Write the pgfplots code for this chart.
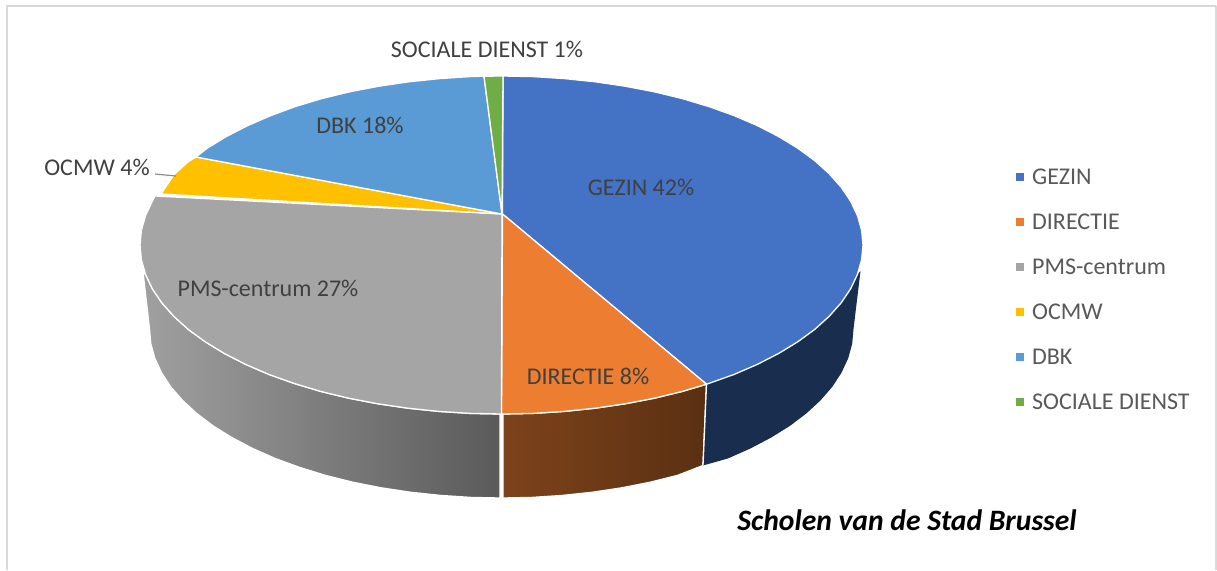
\documentclass[border=0pt]{standalone}
\usepackage{pgfplots}
\pgfplotsset{compat=1.18}
\usepackage{fontspec}
\setmainfont{Carlito}
\definecolor{cGez}{HTML}{4472C4}
\definecolor{cDir}{HTML}{ED7D31}
\definecolor{cPms}{HTML}{A5A5A5}
\definecolor{cOcm}{HTML}{FFC000}
\definecolor{cDbk}{HTML}{5B9BD5}
\definecolor{cSoc}{HTML}{70AD47}
\definecolor{txt}{HTML}{404040}
\definecolor{ltxt}{HTML}{595959}
\definecolor{frame}{HTML}{D9D9D9}
\definecolor{brL}{HTML}{7D431B}
\definecolor{brR}{HTML}{5A3012}
\definecolor{navy}{HTML}{192D4F}
\definecolor{grL}{HTML}{A0A0A0}
\definecolor{grR}{HTML}{5A5A5A}
\begin{document}
\begin{tikzpicture}
\begin{axis}[
  width=1217pt,height=570pt,scale only axis,
  xmin=0,xmax=1217,ymin=0,ymax=570,y dir=reverse,
  hide axis,clip=true,
  legend style={at={(axis cs:1016,166.5)},anchor=north west,draw=none,fill=none,
    font=\fontsize{24}{28}\selectfont\color{ltxt},row sep=24pt,
    cells={anchor=west},inner sep=0pt,/tikz/column 1/.style={column sep=6pt}},
  legend image code/.code={\fill[#1,draw=none] (0cm,-0.14cm) rectangle (0.28cm,0.14cm);},
  legend cell align=left,
  every axis plot/.append style={line join=round},
]
\addplot[forget plot,draw=none,fill=white] coordinates {(0,0)(1217,0)(1217,570)(0,570)} --cycle;
\addplot[forget plot,draw=frame,line width=2pt] coordinates {(7,570)(7,6)(1216,6)(1216,570)};
% sides
\addplot[forget plot,draw=white,line width=1.3pt,left color=grL,right color=grR]
 coordinates {(500,414)(470,413.4)(438.7,411.4)(407.9,408.2)(377.9,403.8)(348.7,398.2)(320.7,391.4)(294.1,383.4)(269.1,374.5)(245.9,364.5)(224.6,353.6)(205.4,341.9)(188.4,329.5)(173.9,316.4)(161.8,302.8)(152.3,288.7)(145.5,274.3)(143,272)
 (149.5,329)(150.8,343.7)(154.8,358.3)(161.5,372.7)(170.7,386.8)(182.5,400.4)(196.7,413.5)(213.1,425.9)(231.9,437.6)(252.6,448.5)(275.2,458.5)(299.6,467.4)(325.5,475.4)(352.7,482.2)(381.1,487.8)(410.4,492.2)(440.4,495.4)(470.8,497.4)(500,498)} --cycle;
\addplot[forget plot,draw=white,line width=1.3pt,left color=brL,right color=brR]
 coordinates {(503,414)(533,413.4)(564.3,411.4)(595.1,408.2)(625.1,403.8)(654.3,398.2)(682.3,391.4)(706.5,384.2)(703,465.5)(677.5,475.4)(650.3,482.2)(621.9,487.8)(592.6,492.2)(562.6,495.4)(532.2,497.4)(503,498)} --cycle;
\addplot[forget plot,draw=none,fill=navy]
 coordinates {(706.5,384.2)(733.9,374.5)(757.1,364.5)(778.4,353.6)(797.6,341.9)(814.6,329.5)(829.1,316.4)(841.2,302.8)(850.7,288.7)(857.5,274.3)(860.5,271)(853.5,329)(852.2,343.7)(848.2,358.3)(841.5,372.7)(832.3,386.8)(820.5,400.4)(806.3,413.5)(789.9,425.9)(771.1,437.6)(750.4,448.5)(727.8,458.5)(703,465.5)} --cycle;
\addplot[forget plot,draw=white,line width=1.3pt] coordinates {(706.5,384.2)(703,465.5)};
% top
\addplot[draw=white,line width=1.3pt,fill=cGez] coordinates {(502.5,214)(503,76)(533,76.6)(564.3,78.6)(595.1,81.8)(625.1,86.2)(654.3,91.8)(682.3,98.6)(708.9,106.6)(733.9,115.5)(757.1,125.5)(778.4,136.4)(797.6,148.1)(814.6,160.5)(829.1,173.6)(841.2,187.2)(850.7,201.3)(857.5,215.7)(861.6,230.3)(863,245)(861.6,259.7)(857.5,274.3)(850.7,288.7)(841.2,302.8)(829.1,316.4)(814.6,329.5)(797.6,341.9)(778.4,353.6)(757.1,364.5)(733.9,374.5)(708.9,383.4)(706.5,384.2)} --cycle;
\addlegendentry{GEZIN}
\addplot[draw=white,line width=1.3pt,fill=cDir] coordinates {(502.5,214)(706.5,384.2)(682.3,391.4)(654.3,398.2)(625.1,403.8)(595.1,408.2)(564.3,411.4)(533,413.4)(501.5,414)} --cycle;
\addlegendentry{DIRECTIE}
\addplot[draw=white,line width=1.3pt,fill=cPms] coordinates {(502,214)(501.5,414)(470,413.4)(438.7,411.4)(407.9,408.2)(377.9,403.8)(348.7,398.2)(320.7,391.4)(294.1,383.4)(269.1,374.5)(245.9,364.5)(224.6,353.6)(205.4,341.9)(188.4,329.5)(173.9,316.4)(161.8,302.8)(152.3,288.7)(145.5,274.3)(141.4,259.7)(140,245)(141.4,230.3)(145.5,215.7)(152.3,201.3)(155,196)} --cycle;
\addlegendentry{PMS-centrum}
\addplot[draw=white,line width=1.3pt,fill=cOcm] coordinates {(502,214)(161,194)(173.9,174.6)(188.4,161.5)(196,157)} --cycle;
\addlegendentry{OCMW}
\addplot[draw=white,line width=1.3pt,fill=cDbk] coordinates {(502,214)(196,157)(207.4,148.1)(226.6,136.4)(247.9,125.5)(271.1,115.5)(295.1,106.6)(321.7,98.6)(349.7,91.8)(378.9,86.2)(408.9,81.8)(439.7,78.6)(470,76.6)(484,76.2)} --cycle;
\addlegendentry{DBK}
\addplot[draw=white,line width=1.3pt,fill=cSoc] coordinates {(502,214)(484,76.2)(503,76)} --cycle;
\addlegendentry{SOCIALE DIENST}
% leader
\addplot[forget plot,draw=black!45,line width=1.2pt] coordinates {(155,174)(176,176)};
\begin{scope}[every node/.style={font=\fontsize{24}{28}\selectfont,text=txt,inner sep=0pt}]
\node at (axis cs:641,187) {GEZIN 42\%};
\node at (axis cs:588,376) {DIRECTIE 8\%};
\node at (axis cs:268,288) {PMS-centrum 27\%};
\node at (axis cs:97,167) {OCMW 4\%};
\node at (axis cs:360,125) {DBK 18\%};
\node at (axis cs:487,49) {SOCIALE DIENST 1\%};
\end{scope}
\node[inner sep=0pt,text=black,font=\fontsize{29.6}{34}\selectfont\bfseries\itshape] at (axis cs:907,520) {Scholen van de Stad Brussel};
\end{axis}
\end{tikzpicture}
\end{document}
